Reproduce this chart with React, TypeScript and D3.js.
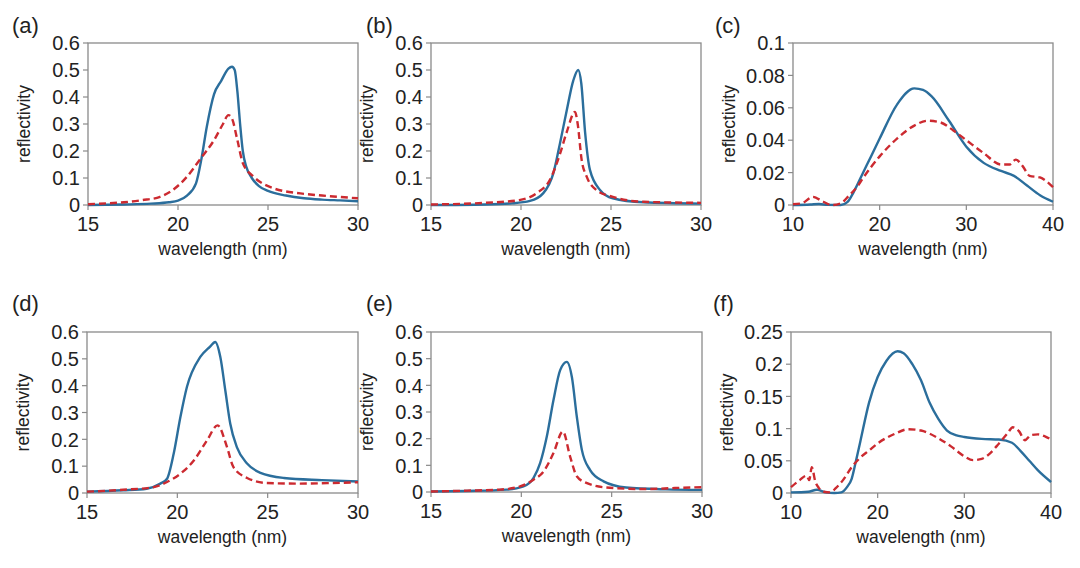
import React from "react";
import * as d3 from "d3";

// ---------- data ----------
type Pt = [number, number];

const aBlue: Pt[] = [[15,0],[17,0.002],[18.5,0.005],[19.5,0.01],[20,0.016],[20.5,0.035],[21,0.08],[21.3,0.17],[21.6,0.29],[22,0.41],[22.4,0.46],[22.8,0.505],[23,0.512],[23.15,0.5],[23.3,0.42],[23.45,0.3],[23.6,0.2],[23.8,0.14],[24.1,0.1],[24.5,0.07],[25,0.052],[26,0.035],[27,0.025],[28,0.02],[29,0.017],[30,0.014]];
const aRed: Pt[] = [[15,0.003],[16,0.006],[17,0.01],[18,0.018],[19,0.03],[19.7,0.055],[20.5,0.105],[21.2,0.167],[22,0.24],[22.5,0.3],[22.8,0.333],[23,0.32],[23.3,0.24],[23.6,0.155],[24.2,0.105],[25.3,0.062],[26.8,0.043],[28,0.035],[30,0.025]];

const bBlue: Pt[] = [[15,0],[18,0.002],[19.5,0.006],[20.5,0.015],[21.24,0.044],[21.8,0.118],[22.17,0.23],[22.54,0.35],[22.9,0.46],[23.18,0.5],[23.35,0.45],[23.56,0.27],[23.83,0.13],[24.4,0.055],[25.1,0.025],[26.8,0.01],[30,0.005]];
const bRed: Pt[] = [[15,0.002],[18,0.008],[19.9,0.018],[20.87,0.044],[21.6,0.092],[22.17,0.19],[22.54,0.27],[23,0.345],[23.15,0.3],[23.37,0.167],[23.65,0.105],[24.2,0.055],[25.1,0.03],[26.8,0.012],[30,0.008]];

const cBlue: Pt[] = [[10,0],[12,0.0003],[13,0.0006],[14,0.0001],[15.5,0],[16.3,0.002],[17,0.008],[18,0.019],[19,0.03],[20,0.041],[22,0.062],[24,0.072],[25,0.071],[26,0.067],[28,0.052],[30,0.036],[32,0.026],[34,0.021],[35.5,0.018],[37,0.012],[38.5,0.006],[40,0.002]];
const cRed: Pt[] = [[10,0.0005],[11,0.001],[12.3,0.005],[13.5,0.002],[14.5,0],[15.5,0.001],[16.5,0.006],[17.5,0.012],[18,0.016],[20,0.03],[22,0.041],[24,0.049],[25.5,0.052],[27,0.051],[28.5,0.046],[30,0.04],[32,0.032],[34,0.025],[35,0.025],[35.7,0.028],[36.5,0.024],[37.3,0.018],[38.5,0.017],[40,0.011]];

const dBlue: Pt[] = [[15,0.005],[17,0.01],[18.3,0.016],[19.06,0.035],[19.43,0.053],[19.8,0.147],[20.17,0.283],[20.53,0.395],[21.27,0.507],[21.8,0.545],[22.1,0.563],[22.38,0.507],[22.66,0.38],[22.93,0.258],[23.3,0.17],[23.86,0.11],[24.6,0.075],[25.9,0.056],[28,0.048],[30,0.043]];
const dRed: Pt[] = [[15,0.005],[17,0.012],[18.7,0.022],[19.43,0.041],[20.17,0.072],[20.9,0.12],[21.64,0.196],[22.23,0.252],[22.75,0.171],[23.1,0.097],[23.86,0.056],[24.96,0.037],[26.8,0.035],[28.5,0.037],[30,0.04]];

const eBlue: Pt[] = [[15,0.002],[17,0.004],[19.2,0.009],[20.12,0.021],[20.67,0.052],[21.04,0.108],[21.41,0.208],[21.78,0.345],[22.15,0.457],[22.52,0.488],[22.8,0.43],[23.07,0.283],[23.35,0.158],[23.8,0.083],[24.55,0.04],[25.8,0.017],[28,0.01],[30,0.008]];
const eRed: Pt[] = [[15,0.002],[17,0.005],[18.8,0.009],[19.93,0.021],[20.67,0.046],[21.23,0.077],[21.78,0.146],[22.3,0.227],[22.7,0.133],[23.07,0.059],[23.6,0.034],[24.7,0.017],[26.8,0.011],[28.5,0.015],[30,0.018]];

const fBlue: Pt[] = [[10,0.001],[12,0.002],[13,0.005],[14,0.001],[15,0],[15.8,0.001],[16.5,0.01],[17,0.022],[17.5,0.05],[18,0.08],[19,0.14],[20,0.18],[21,0.205],[22.3,0.22],[23,0.217],[24,0.2],[25,0.175],[26,0.14],[27,0.115],[28,0.097],[29,0.09],[30,0.087],[32,0.084],[34,0.083],[35.5,0.078],[36.5,0.065],[37.5,0.05],[38.5,0.035],[40,0.017]];
const fRed: Pt[] = [[10,0.009],[11,0.02],[11.8,0.027],[12.1,0.02],[12.4,0.04],[12.8,0.018],[13.2,0.008],[13.8,0.002],[14.5,0.001],[15.2,0.008],[16,0.02],[17,0.04],[18,0.055],[19,0.066],[20,0.077],[22,0.092],[23.5,0.099],[25,0.097],[27,0.085],[28.5,0.072],[30,0.057],[31,0.051],[32,0.053],[33,0.062],[34,0.077],[35,0.093],[35.6,0.102],[36.3,0.096],[37,0.082],[37.7,0.09],[38.5,0.091],[39.3,0.088],[40,0.083]];

const xTicksNarrow = [15, 20, 25, 30];
const xTicksWide = [10, 20, 30, 40];
const yTicks06 = [0, 0.1, 0.2, 0.3, 0.4, 0.5, 0.6];
const yTicks01 = [0, 0.02, 0.04, 0.06, 0.08, 0.1];
const yTicks025 = [0, 0.05, 0.1, 0.15, 0.2, 0.25];
const panelLabels = ["(a)", "(b)", "(c)", "(d)", "(e)", "(f)"];
const xTitle = "wavelength (nm)";
const yTitle = "reflectivity";

// ---------- layout ----------
interface Panel {
  label: string;
  box: [number, number, number, number]; // left, top, right, bottom
  labelPos: [number, number];
  xDomain: [number, number];
  xTicks: number[];
  yDomain: [number, number];
  yTicks: number[];
  blue: Pt[];
  red: Pt[];
}

const panels: Panel[] = [
  { label: panelLabels[0], box: [88, 43, 358, 205], labelPos: [12, 33], xDomain: [15, 30], xTicks: xTicksNarrow, yDomain: [0, 0.6], yTicks: yTicks06, blue: aBlue, red: aRed },
  { label: panelLabels[1], box: [431, 43, 701, 205], labelPos: [366, 33], xDomain: [15, 30], xTicks: xTicksNarrow, yDomain: [0, 0.6], yTicks: yTicks06, blue: bBlue, red: bRed },
  { label: panelLabels[2], box: [793, 43, 1053, 205], labelPos: [715, 33], xDomain: [10, 40], xTicks: xTicksWide, yDomain: [0, 0.1], yTicks: yTicks01, blue: cBlue, red: cRed },
  { label: panelLabels[3], box: [87, 332, 358, 493], labelPos: [12, 311], xDomain: [15, 30], xTicks: xTicksNarrow, yDomain: [0, 0.6], yTicks: yTicks06, blue: dBlue, red: dRed },
  { label: panelLabels[4], box: [431, 332, 702, 492], labelPos: [366, 311], xDomain: [15, 30], xTicks: xTicksNarrow, yDomain: [0, 0.6], yTicks: yTicks06, blue: eBlue, red: eRed },
  { label: panelLabels[5], box: [791, 332, 1051, 493], labelPos: [713, 311], xDomain: [10, 40], xTicks: xTicksWide, yDomain: [0, 0.25], yTicks: yTicks025, blue: fBlue, red: fRed },
];

const FONT = "'Liberation Sans', Arial, sans-serif";
const AXIS = "#8a8a8a";
const TEXT = "#222";
const BLUE = "#2b6e9c";
const RED = "#cc2a30";

function fmt(v: number): string {
  return String(+v.toFixed(3));
}

function PanelView({ p }: { p: Panel }) {
  const [l, t, r, b] = p.box;
  const x = d3.scaleLinear().domain(p.xDomain).range([l, r]);
  const y = d3.scaleLinear().domain(p.yDomain).range([b, t]);
  const line = d3
    .line<Pt>()
    .x((d) => x(d[0]))
    .y((d) => y(d[1]))
    .curve(d3.curveMonotoneX);
  return (
    <g>
      <text x={p.labelPos[0]} y={p.labelPos[1]} fontSize={22} fill={TEXT} fontFamily={FONT}>
        {p.label}
      </text>
      <rect x={l} y={t} width={r - l} height={b - t} fill="none" stroke={AXIS} strokeWidth={1.3} />
      {p.yTicks.map((v) => (
        <g key={"y" + v}>
          <line x1={l - 5} x2={l} y1={y(v)} y2={y(v)} stroke={AXIS} strokeWidth={1.2} />
          <text x={l - 8} y={y(v)} dy="0.36em" textAnchor="end" fontSize={20} fill={TEXT} fontFamily={FONT}>
            {fmt(v)}
          </text>
        </g>
      ))}
      {p.xTicks.map((v) => (
        <g key={"x" + v}>
          <line x1={x(v)} x2={x(v)} y1={b} y2={b + 5} stroke={AXIS} strokeWidth={1.2} />
          <text x={x(v)} y={b + 26} textAnchor="middle" fontSize={20} fill={TEXT} fontFamily={FONT}>
            {fmt(v)}
          </text>
        </g>
      ))}
      <text x={(l + r) / 2} y={b + 50} textAnchor="middle" fontSize={17.5} fill={TEXT} fontFamily={FONT}>
        {xTitle}
      </text>
      <text
        transform={`translate(${l - 58},${(t + b) / 2}) rotate(-90)`}
        textAnchor="middle"
        fontSize={17.5}
        fill={TEXT}
        fontFamily={FONT}
      >
        {yTitle}
      </text>
      <path d={line(p.blue) || ""} fill="none" stroke={BLUE} strokeWidth={2.4} strokeLinejoin="round" />
      <path d={line(p.red) || ""} fill="none" stroke={RED} strokeWidth={2.4} strokeDasharray="7,4" strokeLinejoin="round" />
    </g>
  );
}

export default function App() {
  return (
    <svg
      width={1080}
      height={568}
      style={{ position: "absolute", left: 0, top: 0, background: "#fff" }}
    >
      <rect width={1080} height={568} fill="#fff" />
      {panels.map((p) => (
        <PanelView key={p.label} p={p} />
      ))}
    </svg>
  );
}
